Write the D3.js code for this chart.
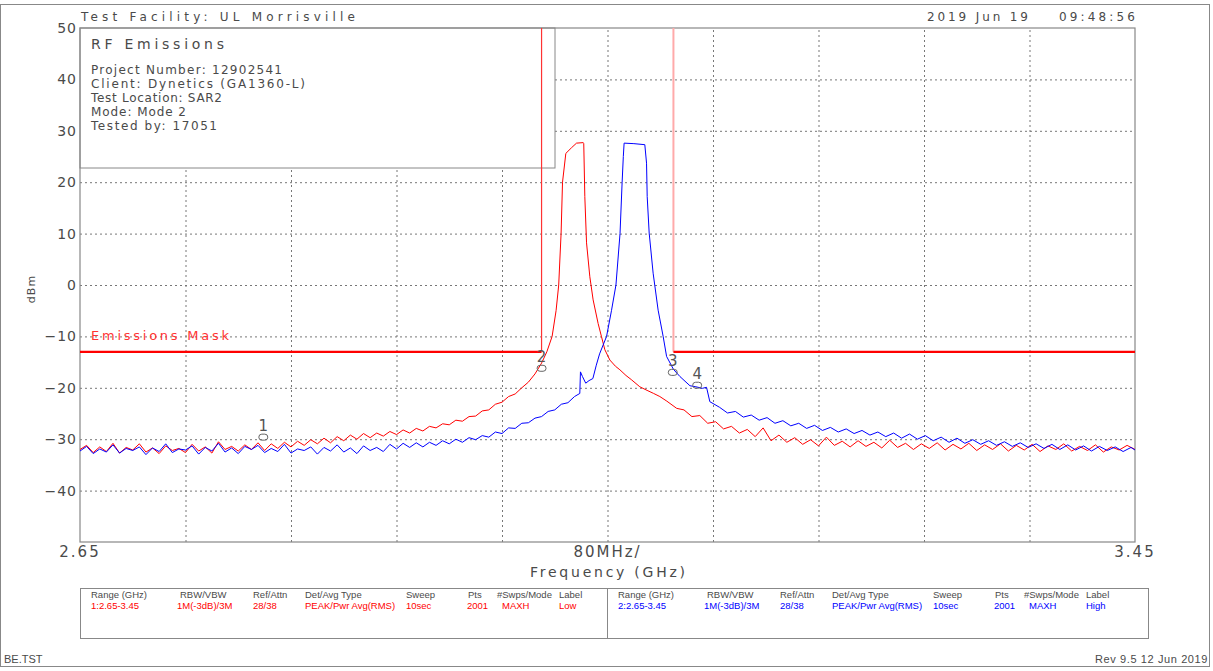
<!DOCTYPE html>
<html>
<head>
<meta charset="utf-8">
<script src="https://cdn.jsdelivr.net/npm/d3@7"></script>
<style>
  body { margin: 0; background: #fff; }
  svg { display: block; }
  text { font-family: "DejaVu Sans", sans-serif; fill: #4a4a4a; }
  .tbl { font-family: "Liberation Sans", Arial, sans-serif; font-size: 9.5px; }
</style>
</head>
<body>
<div id="chart"></div>
<script>
// ---- data ----
// Low channel (red), [GHz, dBm]
const lowTrace = [
  [2.650,-32.0],[2.655,-31.2],[2.660,-32.6],[2.665,-31.5],[2.670,-32.4],[2.675,-30.8],[2.680,-32.7],[2.685,-31.6],
  [2.690,-32.1],[2.695,-30.9],[2.700,-32.5],[2.705,-31.7],[2.710,-32.8],[2.715,-31.3],[2.720,-32.2],[2.725,-31.8],
  [2.730,-32.6],[2.735,-31.0],[2.740,-32.3],[2.745,-31.5],[2.750,-32.7],[2.755,-30.5],[2.760,-32.0],[2.765,-31.4],
  [2.770,-32.3],[2.775,-31.1],[2.780,-32.0],[2.785,-30.7],[2.790,-32.2],[2.795,-30.9],[2.800,-31.8],
  [2.805,-30.6],[2.810,-31.5],[2.815,-30.4],[2.820,-31.2],[2.825,-30.1],[2.830,-30.9],[2.835,-29.8],[2.840,-30.7],
  [2.845,-29.5],[2.850,-30.3],[2.855,-29.2],[2.860,-30.0],[2.865,-28.9],[2.870,-29.7],[2.875,-28.8],[2.880,-29.4],
  [2.885,-28.5],[2.890,-29.1],[2.895,-28.2],[2.900,-28.8],[2.905,-27.9],[2.910,-28.4],[2.915,-27.5],[2.920,-27.8],
  [2.925,-27.0],[2.930,-27.2],[2.935,-26.3],[2.940,-26.5],[2.945,-25.6],[2.950,-25.5],[2.955,-24.5],[2.960,-24.3],
  [2.965,-23.2],[2.970,-22.8],[2.975,-21.7],[2.980,-21.2],[2.985,-20.0],[2.990,-18.9],[2.995,-17.3],[3.000,-15.2],
  [3.004,-13.0],[3.008,-10.0],[3.011,-5.0],[3.013,0.0],[3.0148,10.0],[3.0159,20.0],[3.0184,25.6],[3.0227,26.7],
  [3.0265,27.6],[3.0316,27.7],[3.032,27.5],[3.0328,17.2],[3.0341,8.2],[3.0366,1.6],[3.0391,-2.9],[3.0429,-7.5],
  [3.0454,-10.0],[3.048,-12.6],[3.0518,-14.6],[3.056,-15.8],[3.0594,-16.5],[3.064,-17.6],[3.068,-18.4],[3.0745,-19.8],
  [3.080,-20.5],[3.085,-21.1],[3.0897,-21.7],[3.095,-22.6],[3.1025,-24.0],
  [3.108,-24.3],[3.114,-25.6],[3.120,-25.4],[3.126,-26.9],[3.132,-26.6],[3.138,-28.0],[3.144,-27.5],[3.150,-28.8],
  [3.156,-28.1],[3.162,-29.5],[3.168,-27.8],[3.174,-30.3],[3.180,-29.2],[3.186,-30.6],[3.192,-29.7],[3.198,-31.0],
  [3.204,-30.1],[3.210,-31.3],[3.216,-29.6],[3.222,-31.2],[3.228,-30.4],[3.234,-31.5],[3.240,-30.3],[3.246,-31.4],
  [3.252,-30.6],[3.258,-31.7],[3.264,-30.2],[3.270,-31.6],[3.276,-30.8],[3.282,-32.0],[3.288,-30.9],[3.294,-31.8],
  [3.300,-30.7],[3.306,-32.1],[3.312,-31.0],[3.318,-31.9],[3.324,-30.8],[3.330,-32.2],[3.336,-31.1],[3.342,-32.0],
  [3.348,-30.9],[3.354,-32.3],[3.360,-31.2],[3.366,-32.1],[3.372,-31.0],[3.378,-32.4],[3.384,-31.3],[3.390,-32.0],
  [3.396,-30.9],[3.402,-32.3],[3.408,-31.4],[3.414,-32.2],[3.420,-31.1],[3.426,-32.5],[3.432,-31.5],[3.438,-32.1],
  [3.444,-31.2],[3.450,-32.0]
];

// High channel (blue), [GHz, dBm]
const highTrace = [
  [2.650,-32.3],[2.655,-31.4],[2.660,-32.8],[2.665,-31.9],[2.670,-32.5],[2.675,-31.1],[2.680,-32.7],[2.685,-31.8],
  [2.690,-32.2],[2.695,-31.5],[2.700,-33.0],[2.705,-31.7],[2.710,-32.4],[2.715,-30.9],[2.720,-32.6],[2.725,-31.9],
  [2.730,-32.1],[2.735,-31.3],[2.740,-32.9],[2.745,-31.6],[2.750,-32.3],[2.755,-30.8],[2.760,-32.5],[2.765,-31.7],
  [2.770,-32.8],[2.775,-31.4],[2.780,-32.0],[2.785,-31.2],[2.790,-32.6],[2.795,-31.8],[2.800,-32.4],[2.805,-31.0],
  [2.810,-32.7],[2.815,-31.9],[2.820,-32.2],[2.825,-31.5],[2.830,-32.9],[2.835,-31.6],[2.840,-32.3],[2.845,-31.1],
  [2.850,-32.5],[2.855,-31.7],[2.860,-32.8],[2.865,-31.3],[2.870,-32.2],[2.875,-31.6],[2.880,-32.4],
  [2.885,-31.0],[2.890,-31.9],[2.895,-30.8],[2.900,-31.6],[2.905,-30.7],[2.910,-31.5],[2.915,-30.6],[2.920,-31.2],
  [2.925,-30.3],[2.930,-30.9],[2.935,-30.0],[2.940,-30.6],[2.945,-29.7],[2.950,-30.1],[2.955,-29.3],[2.960,-29.6],
  [2.965,-28.6],[2.970,-28.9],[2.975,-27.8],[2.980,-27.9],[2.985,-26.9],[2.990,-26.8],[2.995,-25.9],[3.000,-25.6],
  [3.005,-24.6],[3.010,-24.3],[3.015,-23.2],[3.020,-22.9],[3.025,-21.7],[3.029,-21.1],[3.0295,-16.9],[3.031,-17.8],
  [3.0335,-19.1],[3.036,-18.6],[3.0389,-18.2],[3.0415,-15.6],[3.044,-13.4],[3.0493,-10.0],[3.053,-5.0],[3.0564,0.0],
  [3.0595,10.0],[3.0611,20.0],[3.062,25.0],[3.0626,27.6],[3.070,27.5],[3.0783,27.3],[3.0796,23.7],[3.0801,17.2],
  [3.0816,10.1],[3.0846,2.3],[3.0884,-4.9],[3.0922,-10.0],[3.0948,-13.9],[3.100,-16.4],[3.1049,-17.8],[3.1125,-19.6],
  [3.117,-19.8],[3.122,-20.1],[3.1251,-19.9],[3.1276,-22.7],[3.135,-23.8],
  [3.141,-24.9],[3.147,-24.6],[3.153,-25.7],[3.159,-25.3],[3.165,-26.3],[3.171,-25.8],[3.177,-26.9],[3.183,-26.4],
  [3.189,-27.4],[3.195,-26.9],[3.201,-27.9],[3.207,-27.3],[3.213,-28.3],[3.219,-27.7],[3.225,-28.6],[3.231,-28.0],
  [3.237,-28.9],[3.243,-28.3],[3.249,-29.2],[3.255,-28.6],[3.261,-29.5],[3.267,-28.8],[3.273,-29.8],[3.279,-29.0],
  [3.285,-30.0],[3.291,-29.3],[3.297,-30.3],[3.303,-29.6],[3.309,-30.6],[3.315,-29.8],[3.321,-30.8],[3.327,-30.1],
  [3.333,-31.0],[3.339,-30.3],[3.345,-31.2],[3.351,-30.5],[3.357,-31.4],[3.363,-30.7],[3.369,-31.6],[3.375,-30.9],
  [3.381,-31.8],[3.387,-31.0],[3.393,-32.0],[3.399,-31.1],[3.405,-32.1],[3.411,-31.3],[3.417,-32.3],[3.423,-31.4],
  [3.429,-32.2],[3.435,-31.5],[3.441,-32.4],[3.447,-31.6],[3.450,-32.1]
];

// emissions mask, [GHz, dBm]
const maskLeft = [[2.65,-13],[3.0,-13],[3.0,50]];
const maskRight = [[3.1,50],[3.1,-13],[3.45,-13]];

// markers
const markerLabels = ["1","2","3","4"];
const markerFreqs = [2.789, 3.000, 3.0995, 3.118];
const markerLevels = [-29.6, -16.2, -17.0, -19.5];

// axes
const yTicks = [50,40,30,20,10,0,-10,-20,-30,-40];
const yGrid = [40,30,20,10,0,-10,-20,-30,-40];
const xGrid = [2.73,2.81,2.89,2.97,3.05,3.13,3.21,3.29,3.37];
const xTickFreqs = [2.65, 3.05, 3.45];
const xTickLabels = ["2.65", "80MHz/", "3.45"];

// text blocks
const infoTitle = "RF Emissions";
const infoLines = ["Project Number: 12902541","Client: Dynetics (GA1360-L)","Test Location: SAR2","Mode: Mode 2","Tested by: 17051"];
const tableHeaders = ["Range (GHz)","RBW/VBW","Ref/Attn","Det/Avg Type","Sweep","Pts","#Swps/Mode","Label"];
const lowSettings = ["1:2.65-3.45","1M(-3dB)/3M","28/38","PEAK/Pwr Avg(RMS)","10sec","2001","MAXH","Low"];
const highSettings = ["2:2.65-3.45","1M(-3dB)/3M","28/38","PEAK/Pwr Avg(RMS)","10sec","2001","MAXH","High"];

// ---- layout ----
const W = 1213, H = 671;
const margin = { top: 28, right: 78, bottom: 129, left: 80 };
const width = W - margin.left - margin.right;
const height = H - margin.top - margin.bottom;

const svg = d3.select("#chart").append("svg")
  .attr("width", W).attr("height", H);

// outer frame
svg.append("rect").attr("x", 0.5).attr("y", 4.5).attr("width", 1209).attr("height", 662)
  .attr("fill", "none").attr("stroke", "#888");

const g = svg.append("g").attr("transform", `translate(${margin.left},${margin.top})`);

const x = d3.scaleLinear().domain([2.65, 3.45]).range([0, width]);
const y = d3.scaleLinear().domain([-50, 50]).range([height, 0]);

// gridlines
const gx = g.append("g").attr("transform", `translate(0,${height})`)
  .call(d3.axisBottom(x).tickValues(xGrid).tickSize(-height).tickFormat(""));
const gy = g.append("g")
  .call(d3.axisLeft(y).tickValues(yGrid).tickSize(-width).tickFormat(""));
[gx, gy].forEach(a => {
  a.select(".domain").remove();
  a.selectAll("line").attr("stroke", "#777").attr("stroke-dasharray", "2,3");
});

// info box
g.append("rect").attr("x", 0).attr("y", 0).attr("width", 475).attr("height", 140)
  .attr("fill", "#fff").attr("stroke", "#888");
g.append("text").attr("x", 11).attr("y", 21).style("font-size", "14px")
  .attr("textLength", 133).attr("lengthAdjust", "spacing").text(infoTitle);
const infoLens = [191, 214, 131, 95, 126];
infoLines.forEach((s, i) => {
  g.append("text").attr("x", 11).attr("y", 46 + i * 14).style("font-size", "12px")
    .attr("textLength", infoLens[i]).attr("lengthAdjust", "spacing").text(s);
});

// plot frame
g.append("rect").attr("width", width).attr("height", height)
  .attr("fill", "none").attr("stroke", "#888").attr("stroke-width", 1.2);

// y labels
const ya = g.append("g").call(d3.axisLeft(y).tickValues(yTicks).tickSize(0).tickPadding(3));
ya.select(".domain").remove();
ya.selectAll("text").attr("fill", "#4a4a4a").style("font-family", "DejaVu Sans")
  .style("font-size", "14px").style("letter-spacing", "1px");

// x labels
g.selectAll(".xlab").data(xTickLabels).enter().append("text")
  .attr("class", "xlab")
  .attr("x", (d, i) => x(xTickFreqs[i]))
  .attr("y", height + 15)
  .attr("text-anchor", "middle")
  .style("font-size", "15px").style("letter-spacing", "2px")
  .text(d => d);

g.append("text").attr("x", 450).attr("y", height + 35)
  .attr("textLength", 155).attr("lengthAdjust", "spacing")
  .style("font-size", "14px").text("Frequency (GHz)");

svg.append("text").attr("transform", "translate(35,289) rotate(-90)")
  .attr("text-anchor", "middle").style("font-size", "11px").style("letter-spacing", "1px").text("dBm");

// mask
const line = d3.line().x(d => x(d[0])).y(d => y(d[1]));
g.append("path").datum(maskLeft.slice(0, 2)).attr("d", line)
  .attr("fill", "none").attr("stroke", "#f00").attr("stroke-width", 2.2);
g.append("path").datum(maskLeft.slice(1)).attr("d", line)
  .attr("fill", "none").attr("stroke", "#f33").attr("stroke-width", 1.2);
g.append("path").datum(maskRight.slice(0, 2)).attr("d", line)
  .attr("fill", "none").attr("stroke", "#ffaaaa").attr("stroke-width", 2);
g.append("path").datum(maskRight.slice(1)).attr("d", line)
  .attr("fill", "none").attr("stroke", "#f00").attr("stroke-width", 2.2);
g.append("text").attr("x", 11).attr("y", 312)
  .attr("textLength", 138).attr("lengthAdjust", "spacing")
  .style("font-size", "13px").style("fill", "#f33").text("Emissions Mask");

// traces
g.append("path").datum(lowTrace).attr("d", line)
  .attr("fill", "none").attr("stroke", "#f00").attr("stroke-width", 1).attr("stroke-linejoin", "round");
g.append("path").datum(highTrace).attr("d", line)
  .attr("fill", "none").attr("stroke", "#00f").attr("stroke-width", 1).attr("stroke-linejoin", "round");

// markers
const mk = g.selectAll(".mk").data(markerLabels).enter().append("g")
  .attr("class", "mk")
  .attr("transform", (d, i) => `translate(${x(markerFreqs[i])},${y(markerLevels[i])})`);
mk.append("rect").attr("x", -4.5).attr("y", -3).attr("width", 9).attr("height", 6).attr("rx", 3)
  .attr("fill", "none").attr("stroke", "#666").attr("stroke-width", 1);
mk.append("text").attr("y", -6).attr("text-anchor", "middle")
  .style("font-size", "15px").style("fill", "#555").text(d => d);

// header
svg.append("text").attr("x", 81).attr("y", 21).style("font-size", "12px")
  .attr("textLength", 274).attr("lengthAdjust", "spacing").text("Test Facility: UL Morrisville");
svg.append("text").attr("x", 927).attr("y", 21).style("font-size", "12px")
  .attr("textLength", 101).attr("lengthAdjust", "spacing").text("2019 Jun 19");
svg.append("text").attr("x", 1059).attr("y", 21).style("font-size", "12px")
  .attr("textLength", 76).attr("lengthAdjust", "spacing").text("09:48:56");

// settings table
svg.append("rect").attr("x", 80.5).attr("y", 588.5).attr("width", 1068).attr("height", 50)
  .attr("fill", "none").attr("stroke", "#888");
svg.append("line").attr("x1", 607.5).attr("x2", 607.5).attr("y1", 588.5).attr("y2", 638.5)
  .attr("stroke", "#888");
const colX = [91, 180, 253, 305, 406, 468, 497, 559];
const valX = [91, 177, 253, 305, 406, 467, 502, 559];
[[lowSettings, 0, "#f00"], [highSettings, 527, "#00f"]].forEach(([vals, off, col]) => {
  tableHeaders.forEach((h, i) => {
    svg.append("text").attr("class", "tbl").attr("x", colX[i] + off).attr("y", 598).text(h);
  });
  vals.forEach((v, i) => {
    svg.append("text").attr("class", "tbl").attr("x", valX[i] + off).attr("y", 609)
      .style("fill", col).text(v);
  });
});

// footer
svg.append("text").attr("class", "tbl").attr("x", 4).attr("y", 663).style("font-size", "11px").text("BE.TST");
svg.append("text").attr("class", "tbl").attr("x", 1208).attr("y", 663).attr("text-anchor", "end")
  .style("font-size", "11px").style("letter-spacing", "0.6px").text("Rev 9.5 12 Jun 2019");
</script>
</body>
</html>
